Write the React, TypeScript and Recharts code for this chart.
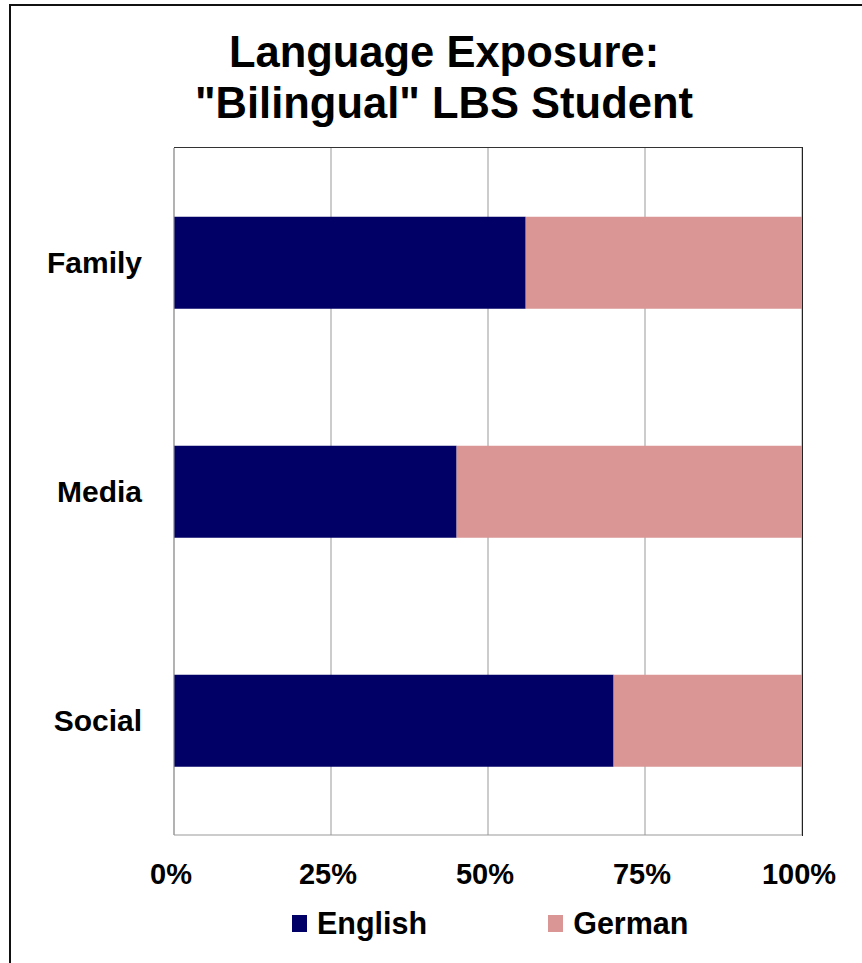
import React from "react";
import { BarChart, Bar, XAxis, YAxis, CartesianGrid, Legend } from "recharts";

const categories = ["Family", "Media", "Social"];
const englishValues = [56, 45, 70];
const germanValues = [44, 55, 30];
const xTicks = [0, 25, 50, 75, 100];
const titleLines = ["Language Exposure:", "\"Bilingual\" LBS Student"];
const seriesNames = ["English", "German"];
const seriesColors = ["#000066", "#D99694"];

const data = categories.map((name, i) => ({
  name,
  English: englishValues[i],
  German: germanValues[i],
}));

const FONT = "'Liberation Sans', Arial, sans-serif";

const LegendContent = () => (
  <div
    style={{
      display: "flex",
      alignItems: "center",
      paddingLeft: 292,
      height: 40,
      fontFamily: FONT,
      fontWeight: "bold",
      fontSize: 30.5,
      color: "#000",
    }}
  >
    {seriesNames.map((n, i) => (
      <div
        key={n}
        style={{ display: "flex", alignItems: "center", marginLeft: i === 0 ? 0 : 121 }}
      >
        <div style={{ width: 15, height: 17, background: seriesColors[i], marginRight: 10 }} />
        <span>{n}</span>
      </div>
    ))}
  </div>
);

export default function App() {
  return (
    <div style={{ position: "absolute", left: 0, top: 0, width: 862, height: 963, background: "#fff" }}>
      <div
        style={{
          position: "absolute",
          left: 9,
          top: 4,
          width: 853,
          height: 959,
          borderLeft: "2px solid #111",
          borderTop: "2px solid #111",
        }}
      />
      <div
        style={{
          position: "absolute",
          left: 0,
          top: 27,
          width: 888,
          textAlign: "center",
          fontFamily: FONT,
          fontWeight: "bold",
          fontSize: 43.5,
          lineHeight: "51px",
          color: "#000",
        }}
      >
        {titleLines.map((t) => (
          <div key={t}>{t}</div>
        ))}
      </div>
      <div style={{ position: "absolute", left: 0, top: 0 }}>
        <BarChart
          width={862}
          height={963}
          data={data}
          layout="vertical"
          barCategoryGap="30%"
          margin={{ top: 148, right: 60, bottom: 28, left: 0 }}
        >
          <CartesianGrid horizontal={false} vertical={true} stroke="#999" />
          <XAxis
            type="number"
            domain={[0, 100]}
            ticks={xTicks}
            tickFormatter={(v) => `${v}%`}
            height={60}
            tickLine={false}
            tickSize={0}
            tickMargin={28}
            axisLine={{ stroke: "#999" }}
            tick={{ fill: "#000", fontSize: 29, fontWeight: "bold", fontFamily: FONT, dx: -3 }}
            interval={0}
          />
          <YAxis
            type="category"
            dataKey="name"
            width={174}
            tickLine={false}
            tickSize={0}
            tickMargin={32}
            axisLine={{ stroke: "#999" }}
            tick={{ fill: "#000", fontSize: 30, fontWeight: "bold", fontFamily: FONT }}
          />
          <Legend verticalAlign="bottom" wrapperStyle={{ top: 903, left: 0, width: 862 }} content={<LegendContent />} />
          <Bar dataKey="English" stackId="a" fill={seriesColors[0]} isAnimationActive={false} />
          <Bar dataKey="German" stackId="a" fill={seriesColors[1]} isAnimationActive={false} />
        </BarChart>
      </div>
      <div
        style={{
          position: "absolute",
          left: 174,
          top: 147,
          width: 628,
          height: 688,
          borderTop: "1px solid #333",
          borderRight: "1px solid #222",
          pointerEvents: "none",
        }}
      />
    </div>
  );
}
